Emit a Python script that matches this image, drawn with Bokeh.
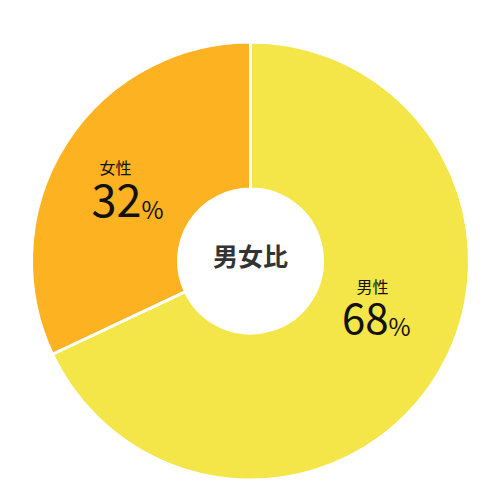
import math
from bokeh.plotting import figure
from bokeh.models import Range1d, ColumnDataSource
from bokeh.core.properties import value
from bokeh.embed import file_html
from bokeh.resources import INLINE

# ---- data ----
categories = ["男性", "女性"]
shares = [68, 32]
colors = ["#F4E548", "#FDB222"]
center_title = "男女比"

# ---- layout (page pixel coords; y data = TOP - page y) ----
W = H = 484
TOP = 484
cx, cy_page = 250, 260.5
cy = TOP - cy_page
R_OUT, R_IN = 219, 72

p = figure(width=W, height=H, output_backend="svg", toolbar_location=None,
           x_range=Range1d(0, 484), y_range=Range1d(0, 484),
           min_border=0, outline_line_color=None)
p.axis.visible = False
p.grid.visible = False
p.background_fill_color = "white"
p.border_fill_color = "white"

# angles: start at 12 o'clock, go clockwise
total = sum(shares)
starts, ends = [], []
a = math.pi / 2
for s in shares:
    starts.append(a)
    a = a - 2 * math.pi * s / total
    ends.append(a)

src = ColumnDataSource(dict(x=[cx] * len(shares), y=[cy] * len(shares),
                            start=starts, end=ends, color=colors, cat=categories))
p.annular_wedge(x="x", y="y", inner_radius=R_IN, outer_radius=R_OUT,
                inner_radius_units="screen", outer_radius_units="screen",
                start_angle="start", end_angle="end", direction="clock",
                fill_color="color", line_color="white", line_width=3, source=src)

font = value("Noto Sans CJK JP")

# center title
p.text(x=[cx], y=[TOP - 254], text=[center_title], text_font=font,
       text_font_size="25px", text_font_style="bold", text_color="#333333",
       text_align="center", text_baseline="middle")

# labels: (name centre x, name centre page y, number right x, number centre y, pct centre y, size)
label_pos = {"男性": (372, 285, 388, 318, 325, "42px"),
             "女性": (115, 166, 141, 200, 208, "45px")}
for cat, s in zip(categories, shares):
    nx, ny, rx, my, py, fs = label_pos[cat]
    p.text(x=[nx], y=[TOP - ny], text=[cat], text_font=font, text_font_size="16px",
           text_color="#111111", text_align="center", text_baseline="middle")
    p.text(x=[rx], y=[TOP - my], text=[str(s)], text_font=font, text_font_size=fs,
           text_color="#111111", text_align="right", text_baseline="middle")
    p.text(x=[rx], y=[TOP - py], text=["%"], text_font=font, text_font_size="24px",
           text_color="#111111", text_align="left", text_baseline="middle")

open("out.html", "w").write(file_html(p, INLINE))
